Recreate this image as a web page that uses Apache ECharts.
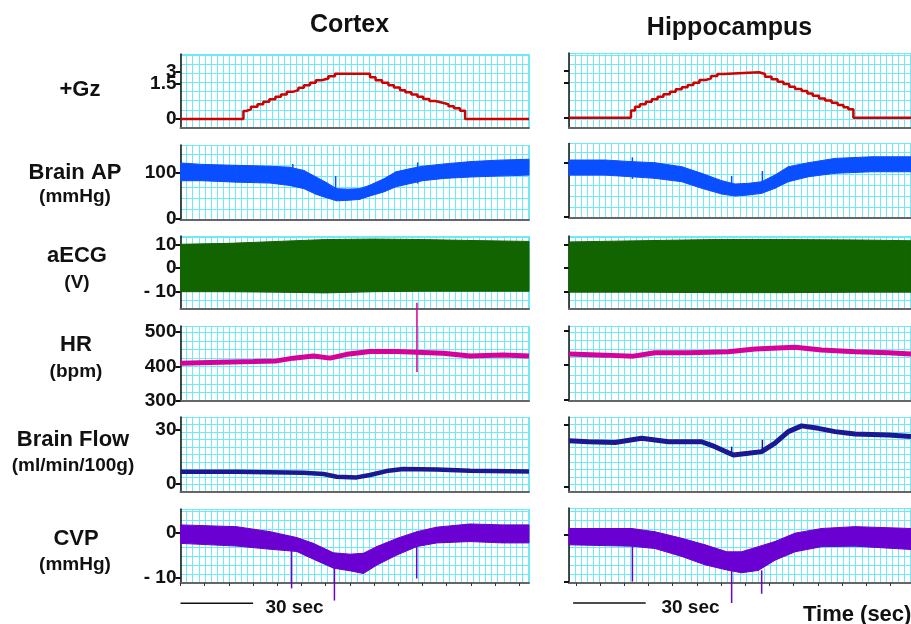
<!DOCTYPE html>
<html>
<head>
<meta charset="utf-8">
<script src="https://cdn.jsdelivr.net/npm/echarts@6/dist/echarts.min.js"></script>
<style>
  html, body { margin: 0; padding: 0; background: #fff; }
  #chart { width: 911px; height: 624px; }
</style>
</head>
<body>
<div id="chart"></div>
<script>
// ---------- recordings (time in seconds) ----------

// +Gz centrifuge profile, step levels
const gzCxT = [0, 26.0, 27.1, 29.1, 31.8, 34.2, 36.7, 39.2, 41.5, 43.9, 46.4, 48.7, 51.0, 53.5, 55.9, 58.3, 61.1, 63.8,
               78.3, 80.6, 83.3, 85.9, 88.2, 90.7, 92.9, 95.4, 97.9, 100.3, 102.8, 105.3, 108.3, 110.7, 113.0, 115.5, 117.6, 144];
const gzCxV = [0, 0.51, 0.62, 0.79, 0.94, 1.11, 1.26, 1.43, 1.57, 1.74, 1.85, 2.0, 2.17, 2.32, 2.49, 2.6, 2.74, 2.9,
               2.67, 2.49, 2.32, 2.17, 2.02, 1.85, 1.72, 1.57, 1.43, 1.28, 1.15, 1.04, 0.94, 0.81, 0.68, 0.53, 0, 0];
const gzHcT = [0, 25.6, 27.3, 29.3, 31.7, 34.2, 36.6, 39.0, 41.7, 44.1, 46.6, 49.0, 51.4, 53.9, 56.5, 58.7, 61.3, 63.8,
               78.5, 81.0, 83.7, 86.2, 88.6, 91.0, 93.4, 96.1, 98.5, 100.7, 103.3, 105.8, 108.5, 111.0, 113.4, 115.4, 117.5, 141.3];
const gzHcV = [0, 0.45, 0.70, 0.86, 1.02, 1.17, 1.34, 1.49, 1.66, 1.81, 1.94, 2.09, 2.23, 2.41, 2.51, 2.66, 2.79, 2.90,
               2.79, 2.62, 2.45, 2.30, 2.15, 1.98, 1.83, 1.70, 1.55, 1.40, 1.23, 1.09, 0.96, 0.81, 0.66, 0.53, 0, 0];

// Brain arterial pressure envelope (mmHg)
const apCxT  = [0, 9, 23, 37, 45, 51, 56, 60, 64.5, 69, 74, 78, 84, 89, 95, 100, 109, 120, 131, 144];
const apCxHi = [120, 117, 115, 113, 111, 104, 90, 79, 65, 64, 65, 72, 86, 101, 108, 113, 118, 123, 126, 128];
const apCxLo = [82, 82, 79, 77, 72, 65, 53, 46, 39, 40, 42, 49, 58, 69, 76, 82, 87, 90, 92, 94];
const apCxSpikeT = [46.4, 64.1, 98.0];
const apCxSpikeA = [70, 60, 76];
const apCxSpikeB = [118, 92, 121];
const apHcT  = [0, 14.9, 25.9, 35.5, 46.6, 54.8, 63.1, 68.6, 74.1, 79.6, 85.1, 90.6, 98.9, 109.9, 125.1, 141.3];
const apHcHi = [105, 105, 102, 100, 92.6, 80.4, 66.7, 60.6, 61.8, 64.8, 77.2, 92.6, 100, 108, 111, 111];
const apHcLo = [77, 77, 74, 71, 64.8, 52.6, 42, 38.3, 40.2, 43.3, 52.6, 64.8, 74, 80.4, 83.3, 83.3];
const apHcSpikeT = [26.2, 67.2, 79.9];
const apHcSpikeA = [70, 45, 55];
const apHcSpikeB = [110, 75.4, 84.6];

// aECG envelope (V)
const ecgCxT  = [0, 20, 40, 60, 80, 100, 120, 144];
const ecgCxHi = [10, 10.4, 11.2, 12, 12.2, 12, 11.6, 11.2];
const ecgCxLo = [-10, -10, -10.2, -10.5, -10, -9.8, -9.8, -9.8];
const ecgHcT  = [0, 30, 60, 90, 120, 141.3];
const ecgHcHi = [11, 11.5, 12, 12, 11.8, 11.5];
const ecgHcLo = [-10.2, -10.2, -10.4, -10.4, -10.2, -10.2];

// Heart rate (bpm)
const hrCxT = [0, 16.3, 30, 39.7, 46.6, 54.9, 61.8, 68.7, 78.3, 89.3, 97.6, 108.6, 119.6, 133.4, 144];
const hrCxV = [409, 412, 414, 416, 424, 430, 424, 435, 443, 443, 441, 438, 430, 433, 430];
const hrCxSpikeT = [97.7];
const hrCxSpikeA = [384];
const hrCxSpikeB = [584];
const hrHcT = [0, 14.9, 26.6, 35.5, 49.3, 65.8, 76.9, 93.4, 104.4, 118.2, 132, 141.3];
const hrHcV = [432, 429, 426, 436, 436, 439, 447, 452, 444, 439, 436, 432];

// Brain flow (ml/min/100g)
const flCxT = [0, 23.2, 50.8, 59.1, 64.5, 72.8, 78.3, 85.1, 92, 105.8, 119.6, 144];
const flCxV = [6.8, 6.8, 6.3, 5.6, 4.1, 3.7, 5, 7.2, 8.3, 8.1, 7.4, 7];
const flHcT = [0, 8, 19, 30, 41.1, 54.8, 60.3, 67.9, 74.1, 79.6, 85.1, 90.6, 96.1, 103, 109.9, 118.2, 132, 141.3];
const flHcV = [22.3, 21.8, 21.4, 23.5, 21.8, 21.8, 19.4, 15.4, 16.2, 17, 21.1, 26.7, 29.5, 28.3, 26.7, 25.6, 25.1, 24.3];
const flHcSpikeT = [67.2, 79.9];
const flHcSpikeA = [15.4, 17];
const flHcSpikeB = [19.4, 22.7];

// Central venous pressure envelope (mmHg)
const cvCxT  = [0, 23.2, 37, 48, 54.9, 63.2, 70.1, 75.6, 81.2, 89.4, 97.7, 105.9, 119.6, 133.4, 144];
const cvCxHi = [1.8, 1.4, 0.3, -1, -2.3, -4.4, -4.7, -4.5, -3, -1.2, 0.3, 1.3, 2, 1.8, 1.8];
const cvCxLo = [-2.3, -2.9, -3.6, -4.1, -5.8, -7.8, -8.4, -9, -7.1, -4.9, -3, -2.2, -1.9, -2.2, -2.2];
const cvCxSpikeT = [45.9, 63.6, 97.6];
const cvCxSpikeA = [-3.9, -7.8, -2.9];
const cvCxSpikeB = [-12.3, -15, -10.1];
const cvHcT  = [0, 25.9, 35.5, 46.6, 56.2, 65.2, 71.3, 78.2, 85.1, 93.4, 104.4, 118.2, 141.3];
const cvHcHi = [1.4, 1.4, 0.7, -0.7, -2.1, -3.6, -3.6, -2.5, -1.4, 0.4, 1.4, 1.8, 1.4];
const cvHcLo = [-2.1, -2.4, -2.9, -4.6, -6.4, -7.5, -8.1, -7.6, -5.4, -3.6, -2.5, -2.4, -3.1];
const cvHcSpikeT = [26.2, 67.2, 79.6];
const cvHcSpikeA = [-2.4, -7.7, -7.6];
const cvHcSpikeB = [-10, -14.6, -12.6];

// y tick positions and their labels
const gzTicks = [0, 2.25, 3];       const gzTickText = ['0', '1.5', '3'];
const apTicks = [0, 100];           const apTickText = ['0', '100'];
const ecgTicks = [-10, 0, 10];      const ecgTickText = ['- 10', '0', '10'];
const hrTicks = [300, 400, 500];    const hrTickText = ['300', '400', '500'];
const flTicks = [0, 30];            const flTickText = ['0', '30'];
const cvTicks = [-10, 0];           const cvTickText = ['- 10', '0'];
const timeTicksCx = [0, 10, 20, 30, 40, 50, 60, 70, 80, 90, 100, 110, 120, 130, 140];
const timeTicksHc = [2.8, 12.8, 22.8, 32.8, 42.8, 52.8, 62.8, 72.8, 82.8, 92.8, 102.8, 112.8, 122.8, 132.8];
const scaleBarSec = 30;

// ---------- layout ----------
const FONT = '"Liberation Sans", Arial, Helvetica, sans-serif';
const MESH = '#6fe9f5';
const COLS = [
  { left: 180.5, width: 348.5, tMax: 144 },
  { left: 569, width: 342, tMax: 141.3 }
];
const ROWS = [
  { top: [54, 53],     height: [74, 75],     yr: [[-0.58, 4.17], [-0.66, 4.13]], cell: 9.1, ticks: gzTicks, text: gzTickText },
  { top: [145, 143.5], height: [75, 74.5],   yr: [[-2.1, 158.5], [-2.4, 135.6]], cell: 11, ticks: apTicks, text: apTickText },
  { top: [236, 236],   height: [73, 73],     yr: [[-17.3, 13.5], [-17.3, 13.5]], cell: 9, ticks: ecgTicks, text: ecgTickText },
  { top: [326, 326],   height: [75, 74.7],   yr: [[300, 517], [296, 514]],       cell: 8.6, ticks: hrTicks, text: hrTickText },
  { top: [417, 417],   height: [75, 75],     yr: [[-4.4, 37.2], [-2.6, 33.8]],   cell: 7.5, ticks: flTicks, text: flTickText },
  { top: [509, 508],   height: [74, 75],     yr: [[-11.1, 5.33], [-10.3, 5.8]],  cell: 9, ticks: cvTicks, text: cvTickText }
];

function tickLabel(values, row, show) {
  return {
    show, customValues: values, margin: 4, hideOverlap: false,
    fontFamily: FONT, fontWeight: 'bold', fontSize: 19, lineHeight: 10, padding: [4, 0, 0, 0], color: '#111',
    formatter: v => {
      const i = row.ticks.findIndex(t => Math.abs(t - v) < 1e-6);
      return i >= 0 ? row.text[i] : '';
    }
  };
}

const grid = [], xAxis = [], yAxis = [], series = [];
const extraAxes = [];
ROWS.forEach((row, r) => {
  COLS.forEach((col, c) => {
    const p = r * 2 + c;
    const last = r === ROWS.length - 1;
    grid.push({ left: col.left, width: col.width, top: row.top[c], height: row.height[c], containLabel: false });
    // data axis (time)
    xAxis.push({
      gridIndex: p, type: 'value', min: 0, max: col.tMax, position: 'bottom',
      axisLine: { show: true, onZero: false, lineStyle: { color: '#666', width: 2 } },
      axisTick: { show: last, customValues: c === 0 ? timeTicksCx : timeTicksHc, length: 3, inside: false,
                  lineStyle: { color: '#333', width: 1 } },
      axisLabel: { show: false }, splitLine: { show: false }
    });
    // chart paper, vertical lines
    xAxis.push({
      gridIndex: p, type: 'value', min: 0, max: col.width / 6.1, interval: 1, position: 'top',
      axisLine: { show: false }, axisTick: { show: false }, axisLabel: { show: false },
      splitLine: { show: true, lineStyle: { color: MESH, width: 1 } }
    });
    // value axis; closely spaced labels are split over two axes so none is dropped
    const even = row.ticks.filter((t, i) => i % 2 === 0);
    const odd = row.ticks.filter((t, i) => i % 2 === 1);
    yAxis.push({
      gridIndex: p, type: 'value', min: row.yr[c][0], max: row.yr[c][1], position: 'left',
      axisLine: { show: true, onZero: false, lineStyle: { color: '#111', width: 1.5 } },
      axisTick: { show: true, customValues: row.ticks, length: 5, lineStyle: { color: '#111', width: 2 } },
      axisLabel: tickLabel(r === 0 ? odd : row.ticks, row, c === 0),
      splitLine: { show: false }
    });
    // chart paper, horizontal lines
    yAxis.push({
      gridIndex: p, type: 'value', min: 0, max: row.height[c] / row.cell, interval: 1, position: 'right',
      axisLine: { show: false }, axisTick: { show: false }, axisLabel: { show: false },
      splitLine: { show: true, lineStyle: { color: MESH, width: 1 } }
    });
    if (r === 0 && c === 0) {
      extraAxes.push({
        gridIndex: p, type: 'value', min: row.yr[c][0], max: row.yr[c][1], position: 'left',
        axisLine: { show: false, onZero: false }, axisTick: { show: false },
        axisLabel: tickLabel(even, row, true), splitLine: { show: false }
      });
    }
  });
});
yAxis.push(...extraAxes);

const ax = p => ({ xAxisIndex: p * 2, yAxisIndex: p * 2 });

function lineSeries(p, T, V, color, width, extra) {
  return Object.assign({
    type: 'line', ...ax(p), data: T.map((t, i) => [t, V[i]]),
    showSymbol: false, symbol: 'none', silent: true, animation: false,
    lineStyle: { color, width }, z: 3
  }, extra || {});
}

function bandSeries(p, T, lo, hi, color) {
  const data = [];
  for (let i = 0; i < T.length - 1; i++) {
    data.push([T[i], lo[i], hi[i], T[i + 1], lo[i + 1], hi[i + 1]]);
  }
  return {
    type: 'custom', ...ax(p), data, silent: true, animation: false, z: 3,
    encode: { x: [0, 3], y: [1, 2, 4, 5] },
    renderItem: (params, api) => {
      const a = api.coord([api.value(0), api.value(2)]);
      const b = api.coord([api.value(3), api.value(5)]);
      const cc = api.coord([api.value(3), api.value(4)]);
      const d = api.coord([api.value(0), api.value(1)]);
      return {
        type: 'polygon', shape: { points: [a, b, cc, d] },
        style: { fill: color, stroke: color, lineWidth: 1 }
      };
    }
  };
}

function spikeSeries(p, T, A, B, color) {
  return {
    type: 'custom', ...ax(p), data: T.map((t, i) => [t, A[i], B[i]]),
    silent: true, animation: false, z: 4, clip: false,
    encode: { x: 0, y: [1, 2] },
    renderItem: (params, api) => {
      const s = api.coord([api.value(0), api.value(1)]);
      const e = api.coord([api.value(0), api.value(2)]);
      return {
        type: 'line', shape: { x1: s[0], y1: s[1], x2: e[0], y2: e[1] },
        style: { stroke: color, lineWidth: 1.5 }
      };
    }
  };
}

const RED = '#d00000', BLUE = '#0a4fff', GREEN = '#116400', MAG = '#d6009a', NAVY = '#1c1894', PURPLE = '#6a00d2';

series.push(lineSeries(0, gzCxT, gzCxV, RED, 2.5, { step: 'end' }));
series.push(lineSeries(1, gzHcT, gzHcV, RED, 2.5, { step: 'end' }));

series.push(bandSeries(2, apCxT, apCxLo, apCxHi, BLUE));
series.push(spikeSeries(2, apCxSpikeT, apCxSpikeA, apCxSpikeB, BLUE));
series.push(bandSeries(3, apHcT, apHcLo, apHcHi, BLUE));
series.push(spikeSeries(3, apHcSpikeT, apHcSpikeA, apHcSpikeB, BLUE));

series.push(bandSeries(4, ecgCxT, ecgCxLo, ecgCxHi, GREEN));
series.push(bandSeries(5, ecgHcT, ecgHcLo, ecgHcHi, GREEN));

series.push(lineSeries(6, hrCxT, hrCxV, MAG, 5));
series.push(spikeSeries(6, hrCxSpikeT, hrCxSpikeA, hrCxSpikeB, MAG));
series.push(lineSeries(7, hrHcT, hrHcV, MAG, 5));

series.push(lineSeries(8, flCxT, flCxV, NAVY, 4.5));
series.push(lineSeries(9, flHcT, flHcV, NAVY, 5));
series.push(spikeSeries(9, flHcSpikeT, flHcSpikeA, flHcSpikeB, NAVY));

series.push(bandSeries(10, cvCxT, cvCxLo, cvCxHi, PURPLE));
series.push(spikeSeries(10, cvCxSpikeT, cvCxSpikeA, cvCxSpikeB, PURPLE));
series.push(bandSeries(11, cvHcT, cvHcLo, cvHcHi, PURPLE));
series.push(spikeSeries(11, cvHcSpikeT, cvHcSpikeA, cvHcSpikeB, PURPLE));

// 30 s scale bars under the bottom panels
series.push(lineSeries(10, [0, scaleBarSec], [-15.6, -15.6], '#111', 1.5, { clip: false }));
series.push(lineSeries(11, [1.7, 1.7 + scaleBarSec], [-14.6, -14.6], '#111', 1.5, { clip: false }));

// ---------- text ----------
function txt(text, x, y, size, align) {
  return {
    type: 'text', silent: true, z: 10,
    style: { text, x, y, fill: '#111', font: 'bold ' + size + 'px ' + FONT,
             textAlign: align || 'center', textVerticalAlign: 'middle' }
  };
}
const graphic = [
  txt('Cortex', 349.5, 25, 25),
  txt('Hippocampus', 729.5, 28, 25),
  txt('+Gz', 80, 90, 22),
  txt('Brain AP', 75, 173, 22), txt('(mmHg)', 75, 197, 19),
  txt('aECG', 77, 256, 22), txt('(V)', 77, 283, 19),
  txt('HR', 76, 345, 22), txt('(bpm)', 76, 372, 19),
  txt('Brain Flow', 73, 440, 22), txt('(ml/min/100g)', 73, 466, 19),
  txt('CVP', 76, 539, 22), txt('(mmHg)', 75, 565, 19),
  txt('30 sec', 294.5, 608, 19),
  txt('30 sec', 690.5, 608, 19),
  txt('Time (sec)', 803, 615, 22, 'left')
];

const chart = echarts.init(document.getElementById('chart'), null, { renderer: 'canvas' });
chart.setOption({
  animation: false,
  backgroundColor: '#fff',
  grid, xAxis, yAxis, series, graphic
});
</script>
</body>
</html>
